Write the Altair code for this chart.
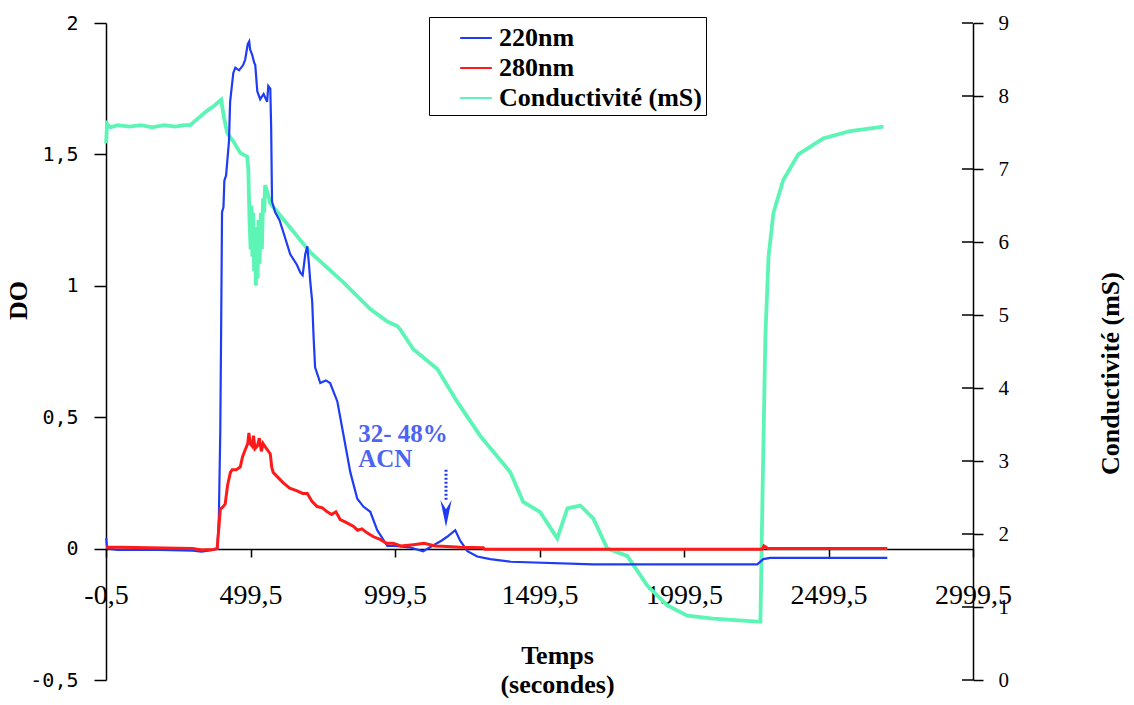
import altair as alt
import pandas as pd

# ---------------- data ----------------
t220 = [0, 4, 40, 150, 300, 330, 370, 385, 390, 395, 398, 401, 406, 409, 415, 425, 429,
        440, 447, 460, 474, 481, 490, 495, 498, 505, 512, 516, 523, 533, 545, 557, 561,
        568, 571, 574, 585, 600, 620, 637, 660, 672, 680, 689, 696, 702, 706, 713, 718,
        723, 741, 760, 775, 800, 820, 845, 869, 890, 914, 938, 973, 1000, 1050, 1097,
        1128, 1160, 1180, 1208, 1225, 1250, 1284, 1329, 1400, 1686, 2253, 2274, 2298, 2703]
do220 = [0.04, 0.0, -0.005, -0.004, -0.008, -0.012, -0.005, 0.0, 0.12, 0.45, 0.85, 1.28,
         1.30, 1.40, 1.42, 1.55, 1.70, 1.81, 1.83, 1.82, 1.84, 1.86, 1.92, 1.93, 1.90,
         1.88, 1.85, 1.84, 1.74, 1.71, 1.73, 1.70, 1.76, 1.75, 1.60, 1.32, 1.28, 1.25,
         1.18, 1.12, 1.08, 1.05, 1.04, 1.12, 1.15, 1.08, 1.02, 0.94, 0.80, 0.69, 0.63,
         0.64, 0.63, 0.56, 0.44, 0.29, 0.19, 0.16, 0.14, 0.07, 0.01, 0.01, 0.005, -0.01,
         0.01, 0.03, 0.045, 0.07, 0.03, -0.01, -0.03, -0.04, -0.05, -0.06, -0.06, -0.04,
         -0.035, -0.035]

t280 = [0, 50, 150, 300, 330, 370, 384, 390, 395, 405, 412, 420, 430, 436, 450, 464, 472,
        481, 490, 494, 498, 505, 510, 515, 523, 530, 537, 543, 555, 568, 573, 578, 595,
        613, 635, 661, 680, 696, 712, 730, 748, 765, 780, 795, 810, 830, 855, 870, 885,
        903, 925, 948, 970, 993, 1020, 1063, 1100, 1139, 1180, 1225, 1305, 1310, 2270,
        2276, 2290, 2703]
do280 = [0.005, 0.005, 0.003, 0.0, -0.005, -0.003, 0.0, 0.08, 0.15, 0.16, 0.17, 0.24,
         0.29, 0.30, 0.30, 0.31, 0.35, 0.375, 0.40, 0.44, 0.40, 0.39, 0.43, 0.38, 0.39,
         0.42, 0.37, 0.40, 0.38, 0.36, 0.31, 0.29, 0.27, 0.25, 0.23, 0.22, 0.21, 0.21,
         0.18, 0.16, 0.155, 0.14, 0.13, 0.14, 0.11, 0.10, 0.085, 0.07, 0.075, 0.06, 0.045,
         0.035, 0.02, 0.02, 0.01, 0.015, 0.02, 0.01, 0.008, 0.005, 0.003, -0.002, -0.002,
         0.01, 0.0, 0.0]

tcond = [0, 3, 15, 40, 80, 120, 160, 200, 240, 270, 291, 320, 350, 375, 398, 408, 419,
         440, 464, 488, 492, 496, 500, 503, 506, 509, 512, 515, 518, 521, 524, 527, 531,
         535, 539, 543, 547, 550, 558, 568, 706, 820, 914, 973, 1007, 1018, 1063, 1146,
         1215, 1295, 1398, 1443, 1502, 1561, 1596, 1641, 1686, 1734, 1803, 1873, 1942,
         2011, 2101, 2253, 2264, 2271, 2281, 2292, 2309, 2343, 2395, 2482, 2575, 2690]
cond = [7.35, 7.62, 7.57, 7.60, 7.58, 7.60, 7.57, 7.60, 7.58, 7.60, 7.60, 7.70, 7.80,
        7.87, 7.95, 7.70, 7.49, 7.38, 7.22, 7.17, 7.00, 6.30, 5.90, 6.50, 5.80, 6.40,
        5.60, 6.20, 5.40, 6.00, 5.50, 6.30, 5.70, 6.40, 5.90, 6.60, 6.40, 6.78, 6.68,
        6.53, 5.86, 5.45, 5.08, 4.91, 4.85, 4.80, 4.53, 4.26, 3.81, 3.34, 2.85, 2.44,
        2.30, 1.94, 2.35, 2.39, 2.21, 1.80, 1.70, 1.29, 1.02, 0.88, 0.84, 0.80, 0.80,
        2.50, 4.70, 5.80, 6.40, 6.85, 7.20, 7.42, 7.52, 7.58]

series_names = ["220nm", "280nm", "Conductivité (mS)"]
series_colors = ["#1f3cf5", "#ff1a1a", "#5cf5b5"]

x_ticks = [-0.5, 499.5, 999.5, 1499.5, 1999.5, 2499.5, 2999.5]
do_ticks = [-0.5, 0, 0.5, 1, 1.5, 2]
cond_ticks = [0, 1, 2, 3, 4, 5, 6, 7, 8, 9]

note_t = [872, 872]
note_v = [0.405, 0.31]
note_text = ["32- 48%", "ACN"]
arrow_t = [1176]
arrow_top = [0.30]
arrow_base = [0.186]
arrow_head_v = [0.134]

# ---------------- frames ----------------
df220 = pd.DataFrame({"t": t220, "v": do220, "s": series_names[0]})
df280 = pd.DataFrame({"t": t280, "v": do280, "s": series_names[1]})
dfc = pd.DataFrame({"t": tcond, "v": cond, "s": series_names[2]})
dfct = pd.DataFrame({"v": cond_ticks})
dfnote = pd.DataFrame({"t": note_t, "v": note_v, "label": note_text})
dfarrow = pd.DataFrame({"t": arrow_t, "v": arrow_top, "v2": arrow_base})
dfhead = pd.DataFrame({"t": arrow_t, "v": arrow_head_v})

W, H = 867, 657
SERIF = "Liberation Serif"

x_scale = alt.Scale(domain=[-0.5, 2999.5], nice=False, zero=False)
do_scale = alt.Scale(domain=[-0.5, 2], nice=False, zero=False)
cond_scale = alt.Scale(domain=[0, 9], nice=False, zero=False)
color_scale = alt.Scale(domain=series_names, range=series_colors)

x_axis = alt.Axis(
    values=x_ticks, labelExpr="replace(toString(datum.value), '.', ',')",
    offset=-131, tickSize=8, labelPadding=24, labelFont=SERIF, labelFontSize=28,
    labelColor="black", labelFlush=False, labelOverlap=False,
    domainColor="black", tickColor="black", domainWidth=1.5, tickWidth=1.5, grid=False,
    title=["Temps", "(secondes)"], titleFont=SERIF, titleFontWeight="bold",
    titleFontSize=26, titleColor="black", titleX=451, titleY=114, titleAlign="center",
    titleBaseline="alphabetic", titleLineHeight=29)

do_axis = alt.Axis(
    orient="left", values=do_ticks, labelExpr="replace(toString(datum.value), '.', ',')",
    tickSize=12, labelPadding=16, labelFont="DejaVu Sans Mono", labelFontSize=20,
    labelColor="black", labelFlush=False, labelOverlap=False,
    domainColor="black", tickColor="black", domainWidth=1.5, tickWidth=1.5, grid=False,
    title="DO", titleFont=SERIF, titleFontWeight="bold", titleFontSize=26,
    titleColor="black", titleAngle=270, titleX=-88, titleY=277, titleAlign="center",
    titleBaseline="middle")

cond_axis = alt.Axis(
    orient="right", values=cond_ticks, tickSize=10, labelPadding=15, labelFont=SERIF,
    labelFontSize=21, labelColor="black", labelFlush=False, labelOverlap=False,
    domainColor="black", tickColor="black", domainWidth=1.5, tickWidth=1.5, grid=False,
    title="Conductivité (mS)", titleFont=SERIF, titleFontWeight="bold", titleFontSize=26,
    titleColor="black", titleAngle=270, titleX=137, titleY=350, titleAlign="center",
    titleBaseline="middle")

legend = alt.Legend(
    title=None, orient="none", legendX=323, legendY=-6, direction="vertical",
    symbolType="stroke", symbolSize=1000, symbolStrokeWidth=2, symbolOffset=26,
    labelFont=SERIF, labelFontWeight="bold", labelFontSize=26, labelColor="black",
    labelOffset=6, labelLimit=600, strokeColor="black", fillColor="white",
    padding=4, rowPadding=0,
    labelExpr=("datum.label == 'Conductivité (mS)' ? "
               "'\u00a0\u00a0' + datum.label + '\u00a0\u00a0\u00a0\u00a0' : datum.label"))

X = alt.X("t:Q", scale=x_scale, axis=x_axis)
color = alt.Color("s:N", scale=color_scale, legend=legend)

cond_line = alt.Chart(dfc).mark_line(strokeWidth=3.8).encode(
    x=X, y=alt.Y("v:Q", scale=cond_scale, axis=cond_axis), color=color)
cond_inner_ticks = alt.Chart(dfct).mark_rule(color="black", strokeWidth=1.5).encode(
    y=alt.Y("v:Q", scale=cond_scale, axis=cond_axis),
    x=alt.value(W - 11), x2=alt.value(W))

Ydo = alt.Y("v:Q", scale=do_scale, axis=do_axis)
line220 = alt.Chart(df220).mark_line(strokeWidth=2.2).encode(x=X, y=Ydo, color=color)
line280 = alt.Chart(df280).mark_line(strokeWidth=3).encode(x=X, y=Ydo, color=color)
arrow = alt.Chart(dfarrow).mark_rule(color=series_colors[0], strokeWidth=3,
                                     strokeDash=[2, 2]).encode(x=X, y=Ydo, y2="v2:Q")
head = alt.Chart(dfhead).mark_point(
    shape="M-0.42,-1L0,1L0.42,-1L0,-0.3Z", filled=True, size=729,
    color=series_colors[0], opacity=1).encode(x=X, y=Ydo)
note = alt.Chart(dfnote).mark_text(
    align="left", baseline="alphabetic", font=SERIF, fontWeight="bold", fontSize=25,
    color="#4d63f2").encode(x=X, y=Ydo, text="label:N")

cond_group = alt.layer(cond_line, cond_inner_ticks)
do_group = alt.layer(line220, line280, arrow, head, note)

chart = alt.layer(cond_group, do_group).resolve_scale(y="independent").properties(
    width=W, height=H,
    padding={"left": 106, "top": 23, "right": 161, "bottom": 25},
    autosize=alt.AutoSizeParams(type="none"),
    background="white",
).configure_view(stroke=None)

chart.save("out.html", embed_options={"renderer": "svg", "actions": False})
